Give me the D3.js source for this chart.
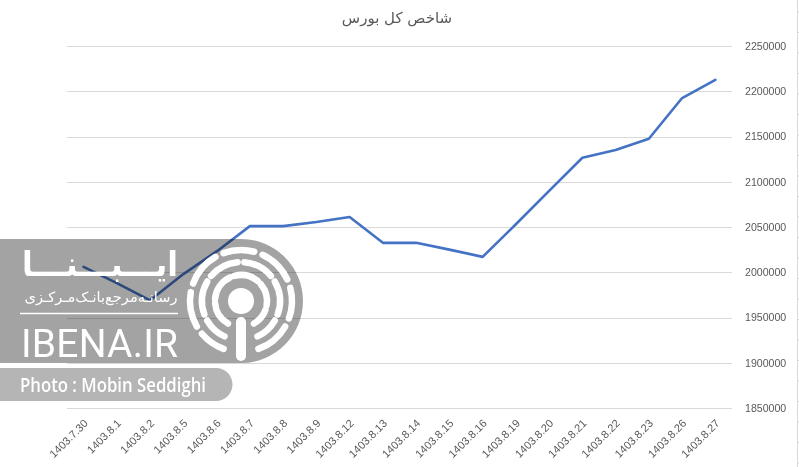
<!DOCTYPE html>
<html><head><meta charset="utf-8">
<script src="https://cdn.jsdelivr.net/npm/d3@7"></script>
<style>
html,body{margin:0;padding:0;background:#fff;}
svg{display:block;}
</style></head>
<body><svg id="c" width="799" height="467"></svg>
<script>
const title = "شاخص کل بورس";
const categories = ["1403.7.30","1403.8.1","1403.8.2","1403.8.5","1403.8.6","1403.8.7","1403.8.8","1403.8.9","1403.8.12","1403.8.13","1403.8.14","1403.8.15","1403.8.16","1403.8.19","1403.8.20","1403.8.21","1403.8.22","1403.8.23","1403.8.26","1403.8.27"];
const values = [2006000,1988000,1969000,1998000,2023000,2051000,2051000,2055500,2061000,2032500,2032500,2025000,2017000,2053000,2090000,2126500,2135000,2147500,2192500,2212500];
const yTicks = [1850000,1900000,1950000,2000000,2050000,2100000,2150000,2200000,2250000];

const svg = d3.select("#c");
const L = 67, R = 732, T = 46, B = 408;
const x = d3.scaleBand().domain(categories).range([L, R]).padding(0);
const y = d3.scaleLinear().domain([1850000, 2250000]).range([B, T]);

// title
svg.append("text").attr("x", 397).attr("y", 23).attr("text-anchor", "middle")
  .attr("font-family", "DejaVu Sans, Arial, sans-serif").attr("font-size", 15)
  .attr("fill", "#595959").text(title);

// gridlines
svg.append("g").selectAll("line").data(yTicks).join("line")
  .attr("x1", L).attr("x2", R).attr("y1", d => Math.round(y(d)) + 0.5).attr("y2", d => Math.round(y(d)) + 0.5)
  .attr("stroke", "#d9d9d9").attr("stroke-width", 1);

// y axis labels (right)
const ya = svg.append("g").attr("transform", `translate(${R},0)`)
  .call(d3.axisRight(y).tickValues(yTicks).tickSize(0).tickPadding(13).tickFormat(d3.format("d")));
ya.select(".domain").remove();
ya.selectAll("text").attr("font-family", "Liberation Sans, Arial, sans-serif").attr("font-size", 10.6).attr("fill", "#595959");

// x axis labels
const xa = svg.append("g").attr("transform", `translate(0,${B})`)
  .call(d3.axisBottom(x).tickSize(0).tickPadding(0));
xa.select(".domain").remove();
xa.selectAll("text")
  .attr("font-family", "Liberation Sans, Arial, sans-serif").attr("font-size", 11).attr("fill", "#595959")
  .attr("text-anchor", "end").attr("dy", 0).attr("y", 0)
  .attr("transform", "translate(5,16) rotate(-45)");

// right edge line
svg.append("line").attr("x1", 797.5).attr("x2", 797.5).attr("y1", 0).attr("y2", 467).attr("stroke", "#d9d9d9");
svg.append("g").selectAll("line").data(d3.range(0, 24)).join("line")
  .attr("x1", 797).attr("x2", 799).attr("y1", d => 12 + d * 20.5).attr("y2", d => 12 + d * 20.5).attr("stroke", "#d9d9d9");

// series line
const line = d3.line().x((d, i) => x(categories[i]) + x.bandwidth() / 2).y(d => y(d));
svg.append("path").datum(values).attr("d", line).attr("fill", "none")
  .attr("stroke", "#4472C4").attr("stroke-width", 2.6).attr("stroke-linejoin", "round").attr("stroke-linecap", "round");

// watermark
const wm = svg.append("g");
wm.append("path").attr("d", "M0,239 H241 A62,62 0 0 1 241,363 H0 Z")
  .attr("fill", "#a3a3a3").style("mix-blend-mode", "multiply");
wm.append("path").attr("d", "M0,368 H216 A16.5,16.5 0 0 1 216,401 H0 Z")
  .attr("fill", "#b5b5b5").style("mix-blend-mode", "multiply");
const cx = 241, cy = 301;
function ringPath(r, a0, a1) {
  const p = d3.path();
  const s = (a0 - 90) * Math.PI / 180, e = (a1 - 90) * Math.PI / 180;
  p.arc(cx, cy, r, s, e, false);
  return p.toString();
}
const segs = [
  [26, [[210, 265], [275, 335], [345, 400], [410, 460], [470, 510]]],
  [39, [[205, 240], [250, 300], [310, 355], [365, 410], [420, 470], [480, 515]]],
  [51, [[200, 230], [240, 280], [290, 330], [340, 375], [385, 425], [435, 470], [480, 520]]]
];
segs.forEach(([r, list]) => {
  list.forEach(([a0, a1]) => {
    wm.append("path").attr("d", ringPath(r, a0, a1)).attr("fill", "none")
      .attr("stroke", "#ffffff").attr("stroke-width", 6.5).attr("stroke-linecap", "round");
  });
});
wm.append("circle").attr("cx", cx).attr("cy", cy).attr("r", 13).attr("fill", "#fff");
wm.append("line").attr("x1", cx).attr("x2", cx).attr("y1", 322).attr("y2", 356)
  .attr("stroke", "#fff").attr("stroke-width", 10).attr("stroke-linecap", "round");
wm.append("text").attr("x", 100).attr("y", 276).attr("text-anchor", "middle")
  .attr("font-family", "DejaVu Sans, sans-serif").attr("font-weight", "bold").attr("font-size", 34)
  .attr("fill", "#fff").attr("textLength", 156).attr("lengthAdjust", "spacingAndGlyphs").text("ایـــبـــنـــا");
wm.append("text").attr("x", 101).attr("y", 302).attr("text-anchor", "middle")
  .attr("font-family", "DejaVu Sans, sans-serif").attr("font-size", 14)
  .attr("fill", "#fff").attr("textLength", 153).attr("lengthAdjust", "spacingAndGlyphs").text("رسانـه‌مرجع‌بانـک‌مـرکـزی");
wm.append("line").attr("x1", 20).attr("x2", 178).attr("y1", 313.5).attr("y2", 313.5).attr("stroke", "#fff").attr("stroke-width", 1.5);
wm.append("text").attr("x", 21).attr("y", 357)
  .attr("font-family", "Roboto, sans-serif").attr("font-weight", 400).attr("font-size", 39)
  .attr("fill", "#fff").attr("textLength", 157).attr("lengthAdjust", "spacing").text("IBENA.IR");
wm.append("text").attr("x", 20).attr("y", 392)
  .attr("font-family", "Open Sans, sans-serif").attr("font-weight", 600).attr("font-size", 20)
  .attr("fill", "#fff").attr("textLength", 186).attr("lengthAdjust", "spacingAndGlyphs").text("Photo : Mobin Seddighi");
</script>
</body></html>
